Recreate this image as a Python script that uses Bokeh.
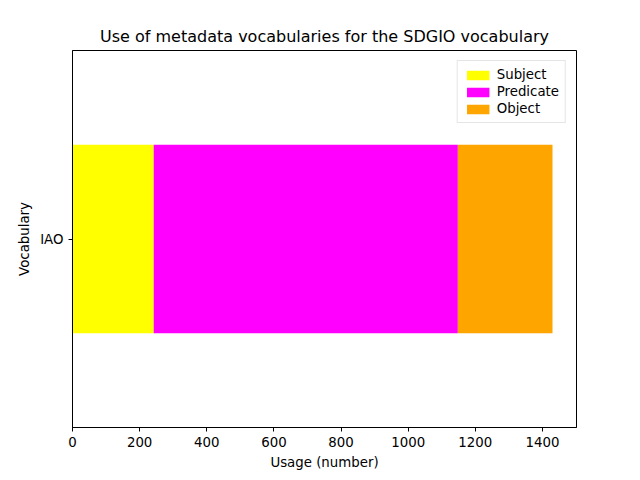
from bokeh.plotting import figure
from bokeh.embed import file_html
from bokeh.resources import INLINE
from bokeh.models import ColumnDataSource, FixedTicker, Range1d, Legend, LegendItem

vocabularies = ["IAO"]
subject = [242]
predicate = [906]
obj = [282]

src = ColumnDataSource(dict(y=[0], Subject=subject, Predicate=predicate, Object=obj))
total = subject[0] + predicate[0] + obj[0]

p = figure(width=624, height=472, output_backend="svg", toolbar_location=None,
           title="Use of metadata vocabularies for the SDGIO vocabulary",
           x_range=Range1d(0, total * 1.05), y_range=Range1d(-0.5, 0.5),
           min_border_left=72, min_border_right=48, min_border_top=50, min_border_bottom=45)
p.title.align = "center"
p.title.text_font = "DejaVu Sans"
p.title.text_font_style = "normal"
p.title.text_font_size = "12pt"
p.title.text_color = "black"
rs = p.hbar_stack(["Subject", "Predicate", "Object"], y="y", height=0.5,
                  color=["yellow", "magenta", "orange"], source=src, line_width=0)
p.xgrid.visible = False
p.ygrid.visible = False
p.yaxis.ticker = FixedTicker(ticks=[0])
p.yaxis.major_label_overrides = {0: vocabularies[0]}
p.xaxis.ticker = FixedTicker(ticks=[0, 200, 400, 600, 800, 1000, 1200, 1400])
p.xaxis.axis_label = "Usage (number)"
p.yaxis.axis_label = "Vocabulary"
for ax in (p.xaxis[0], p.yaxis[0]):
    ax.axis_label_text_font = "DejaVu Sans"
    ax.axis_label_text_font_style = "normal"
    ax.axis_label_text_font_size = "10pt"
    ax.axis_label_text_color = "black"
    ax.major_label_text_font = "DejaVu Sans"
    ax.major_label_text_font_size = "10pt"
    ax.major_label_text_color = "black"
    ax.minor_tick_line_color = None
    ax.major_tick_out = 4
    ax.major_tick_in = 0
    ax.axis_line_color = "black"
    ax.major_tick_line_color = "black"
p.outline_line_color = "black"
legend = Legend(items=[LegendItem(label=n, renderers=[r]) for n, r in zip(["Subject", "Predicate", "Object"], rs)],
                location="top_right", label_text_font="DejaVu Sans", label_text_font_size="10pt",
                label_text_color="black",
                border_line_color="#cccccc", glyph_height=12, glyph_width=28, spacing=2, padding=6)
p.add_layout(legend)
open("out.html", "w").write(file_html(p, INLINE))
